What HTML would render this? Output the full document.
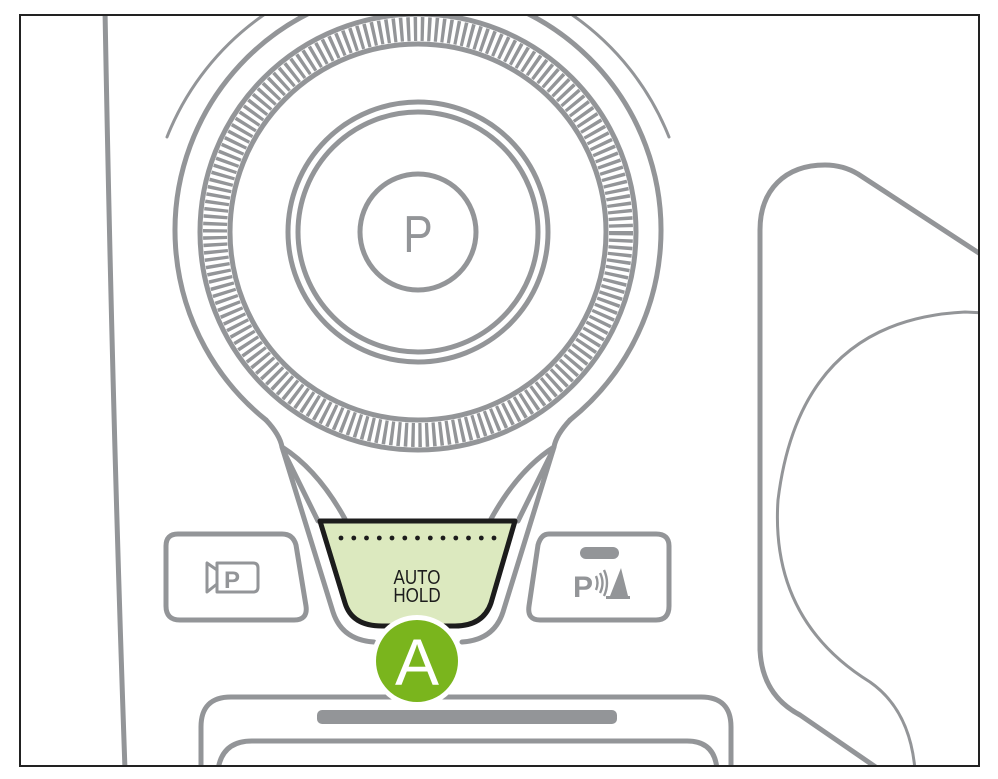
<!DOCTYPE html>
<html><head><meta charset="utf-8"><style>
html,body{margin:0;padding:0;background:#fff;}
svg{display:block;}
</style></head><body>
<svg width="998" height="779" viewBox="0 0 998 779" xmlns="http://www.w3.org/2000/svg">
<defs><clipPath id="fr"><rect x="21" y="16" width="957" height="749"/></clipPath></defs>
<rect x="0" y="0" width="998" height="779" fill="#fff"/>
<g clip-path="url(#fr)" fill="none" stroke="#939598" stroke-width="5" stroke-linecap="round" stroke-linejoin="round">
  <path d="M105 10 Q112 400 125 770"/>
  <path d="M167 137 A270 270 0 0 1 669 137" stroke-width="3"/>
  <path d="M266 420 A243 243 0 1 1 570 420"/>
  <path d="M266 420 Q280 435 282 447 L333 612 Q342 640 374 642"/>
  <path d="M570 420 Q556 435 554 447 L503 612 Q494 640 462 642"/>
  <path d="M282 447 Q318 470 345 519"/>
  <path d="M554 447 Q518 470 491 519"/>
  <path d="M283 450 L318 521"/>
  <path d="M553 450 L518 521"/>
  <circle cx="418" cy="232" r="218"/>
  <circle cx="418" cy="232" r="188"/>
  <circle cx="418" cy="232" r="203" stroke-width="24" stroke-linecap="butt" stroke-dasharray="3.4 3.6"/>
  <circle cx="418" cy="232" r="130"/>
  <circle cx="418" cy="232" r="120"/>
  <circle cx="418" cy="232" r="58"/>
  <path d="M178 534 L282 534 Q293 534 296 545 L306 606 Q308 620 294 620 L180 620 Q166 620 166 606 L166 546 Q166 534 178 534 Z"/>
  <path d="M217 563 L253 563 Q258 563 258 568 L258 587 Q258 592 253 592 L217 592 Z" stroke-width="3"/>
  <path d="M217 570 L207 563 L207 592 L217 584" stroke-width="3"/>
  <path d="M549 534 L656 534 Q669 534 669 546 L669 606 Q669 620 656 620 L540 620 Q527 620 529 606 L538 545 Q541 534 549 534 Z"/>
  <path d="M985 257 L858 174 C848 168 838 165 825 165 C785 165 760 190 760 230 L760 650 Q762 695 800 715 L880 770"/>
  <path d="M985 313 L965 312 Q800 320 778 500 Q770 620 870 682 Q910 710 915 770" stroke-width="3"/>
  <path d="M201 770 L201 727 Q201 697 231 697 L701 697 Q731 697 731 727 L731 770"/>
  <path d="M218 770 Q222 741 252 741 L687 741 Q715 741 717 770"/>
</g>
<g fill="#939598">
  <rect x="317" y="710" width="300" height="14" rx="5"/>
  <rect x="580" y="547" width="39" height="12" rx="6"/>
  <text x="418" y="252" text-anchor="middle" font-family="Liberation Sans, sans-serif" font-size="52" fill="#939598" transform="translate(418 0) scale(0.85 1) translate(-418 0)">P</text>
  <text x="224" y="588" font-family="Liberation Sans, sans-serif" font-size="24" font-weight="bold" fill="#939598">P</text>
  <text x="573" y="597" font-family="Liberation Sans, sans-serif" font-size="30" font-weight="bold" fill="#939598">P</text>
  <path d="M610 596 L621 568 L628 596 Z"/>
  <rect x="606" y="596" width="24" height="3"/>
</g>
<g fill="none" stroke="#939598" stroke-width="2.4">
  <path d="M596 576 Q599 583 596 590"/>
  <path d="M600 573 Q605 583 600 593"/>
  <path d="M604 570 Q610 583 604 596"/>
</g>
<path d="M320 521 L515 521 L491 603 Q483 626 455 626 L382 626 Q352 626 345 603 Z" fill="#dce9bf" stroke="#1c1c1c" stroke-width="5" stroke-linejoin="round"/>
<g fill="#1c1c1c">
  <circle cx="341" cy="538" r="2.4"/><circle cx="353.8" cy="538" r="2.4"/><circle cx="366.5" cy="538" r="2.4"/><circle cx="379.3" cy="538" r="2.4"/><circle cx="392" cy="538" r="2.4"/><circle cx="404.8" cy="538" r="2.4"/><circle cx="417.5" cy="538" r="2.4"/><circle cx="430.3" cy="538" r="2.4"/><circle cx="443" cy="538" r="2.4"/><circle cx="455.8" cy="538" r="2.4"/><circle cx="468.5" cy="538" r="2.4"/><circle cx="481.3" cy="538" r="2.4"/><circle cx="494" cy="538" r="2.4"/>
</g>
<text x="417" y="584" text-anchor="middle" font-family="Liberation Sans, sans-serif" font-size="20" fill="#1c1c1c" transform="translate(417 0) scale(0.85 1) translate(-417 0)">AUTO</text>
<text x="417" y="602" text-anchor="middle" font-family="Liberation Sans, sans-serif" font-size="20" fill="#1c1c1c" transform="translate(417 0) scale(0.85 1) translate(-417 0)">HOLD</text>
<circle cx="417" cy="661" r="46" fill="#fff"/>
<circle cx="417" cy="661" r="41" fill="#7ab51d"/>
<text x="417" y="685" text-anchor="middle" font-family="Liberation Sans, sans-serif" font-size="66" fill="#fff">A</text>
<rect x="20" y="15" width="959" height="751" fill="none" stroke="#222" stroke-width="2"/>
</svg>
</body></html>
